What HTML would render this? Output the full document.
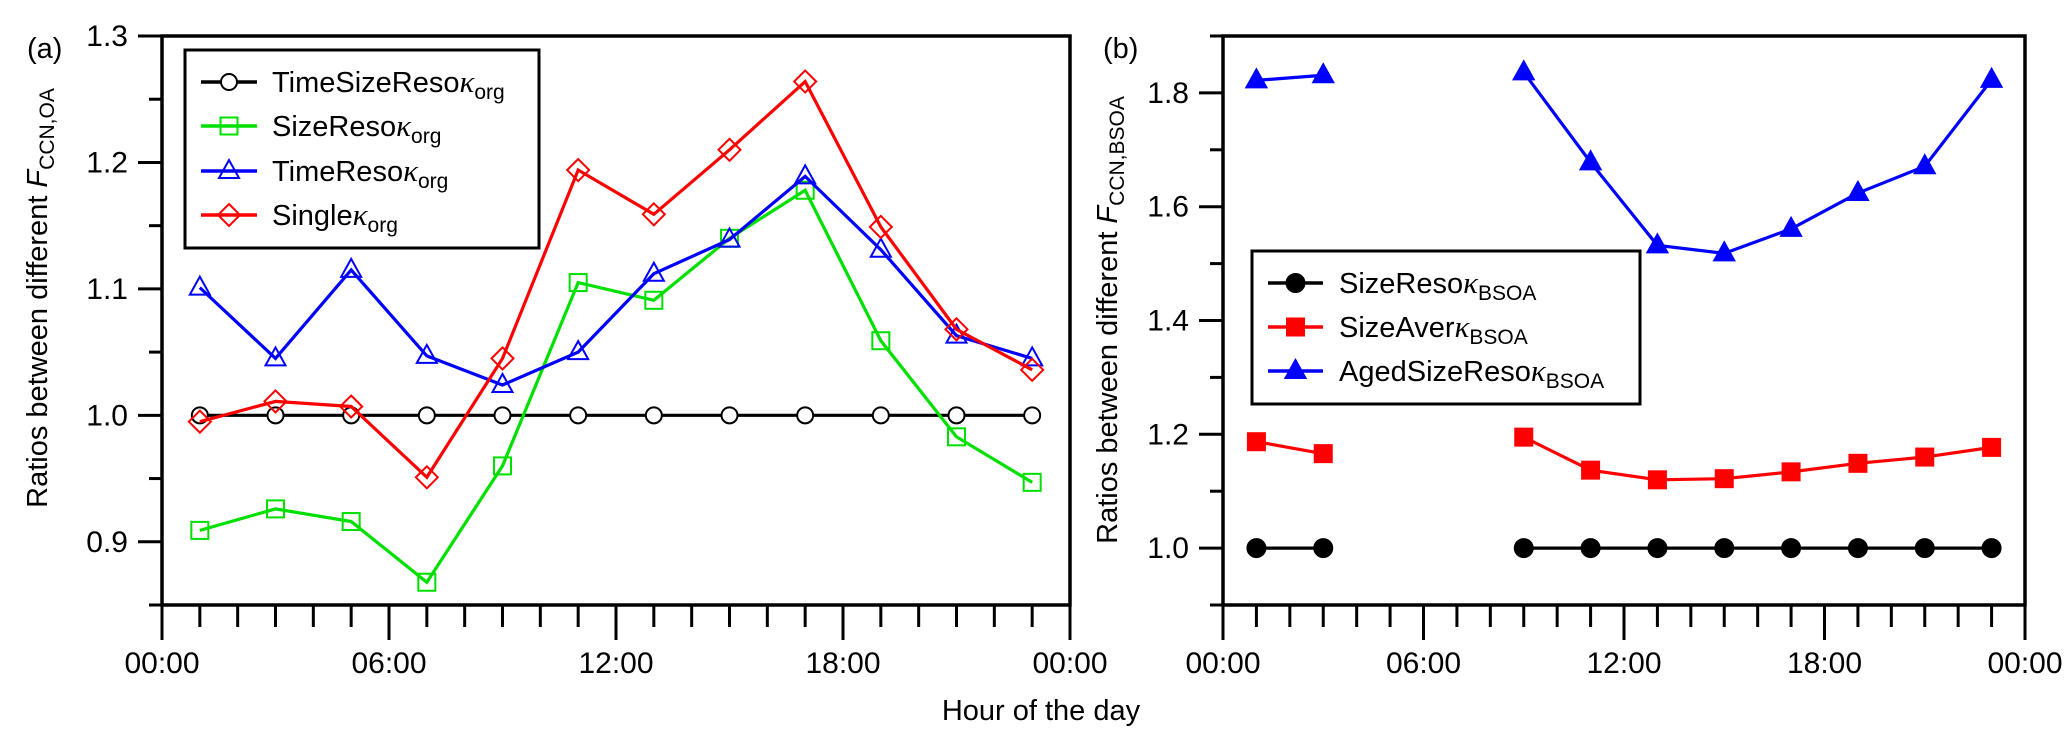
<!DOCTYPE html>
<html><head><meta charset="utf-8">
<style>
html,body{margin:0;padding:0;background:#fff;}
svg{display:block;font-family:"Liberation Sans",Arial,sans-serif;}
</style></head>
<body>
<svg id="chart" width="2067" height="750" viewBox="0 0 2067 750" xmlns="http://www.w3.org/2000/svg">
<g id="pa"></g>
<g id="pb"></g>
<text x="1041" y="720" font-size="29" text-anchor="middle">Hour of the day</text>
</svg>
<script>
const hoursA = [1,3,5,7,9,11,13,15,17,19,21,23];
const aBlack = [1,1,1,1,1,1,1,1,1,1,1,1];
const aGreen = [0.909,0.926,0.916,0.868,0.960,1.105,1.091,1.140,1.178,1.059,0.983,0.947];
const aBlue = [1.101,1.045,1.115,1.047,1.024,1.050,1.112,1.139,1.189,1.131,1.063,1.045];
const aRed = [0.995,1.011,1.007,0.951,1.045,1.194,1.159,1.210,1.264,1.149,1.068,1.036];
const hoursB1 = [1,3];
const hoursB2 = [9,11,13,15,17,19,21,23];
const bBlack1 = [1,1];
const bBlack2 = [1,1,1,1,1,1,1,1];
const bRed1 = [1.187,1.166];
const bRed2 = [1.195,1.137,1.120,1.122,1.134,1.149,1.160,1.177];
const bBlue1 = [1.822,1.831];
const bBlue2 = [1.836,1.678,1.532,1.518,1.561,1.624,1.671,1.823];
const xTickLabels = ["00:00","06:00","12:00","18:00","00:00"];
const yTicksA = ["0.9","1.0","1.1","1.2","1.3"];
const yTicksB = ["1.0","1.2","1.4","1.6","1.8"];

const NS="http://www.w3.org/2000/svg";
function mk(parent,tag,attrs){const e=document.createElementNS(NS,tag);for(const k in attrs)e.setAttribute(k,attrs[k]);parent.appendChild(e);return e;}

function panel(g,L,R,T,B,ymin,ymax,yMajor,yMinor,yLabels){
  const xs=h=>L+(R-L)*h/24;
  const ys=v=>B-(B-T)*(v-ymin)/(ymax-ymin);
  for(let v=ymin;v<=ymax+1e-9;v+=yMinor){
    const isMaj=Math.abs(Math.round(v/yMajor)*yMajor-v)<1e-6;
    const t=mk(g,'line',{x1:L,x2:L-(isMaj?24:13),y1:ys(v),y2:ys(v),stroke:'#000','stroke-width':3});
    
    
  }
  yLabels.forEach(s=>{
    const t=mk(g,'text',{x:L-34,y:ys(parseFloat(s))+10,'font-size':30,'text-anchor':'end'});
    t.textContent=s;
    
    
  });
  for(let h=0;h<=24;h++){
    const maj=h%6===0;
    const t=mk(g,'line',{x1:xs(h),x2:xs(h),y1:B,y2:B+(maj?35:22),stroke:'#000','stroke-width':3});
    
    
  }
  xTickLabels.forEach((s,i)=>{
    const t=mk(g,'text',{x:xs(i*6),y:673,'font-size':30,'text-anchor':'middle'});
    t.textContent=s;
    
    
  });
  const box=mk(g,'rect',{x:L,y:T,width:R-L,height:B-T,fill:'none',stroke:'#000','stroke-width':3.5});
  
  
  return {xs,ys};
}

function marker(g,type,x,y,color,filled){
  const f=filled?color:'none';let e;
  if(type==='circle') e=mk(g,'circle',{cx:x,cy:y,r:filled?9:8,fill:filled?color:'#fff',stroke:color,'stroke-width':2});
  else if(type==='square') e=mk(g,'rect',{x:x-8.5,y:y-8.5,width:17,height:17,fill:filled?color:'none',stroke:color,'stroke-width':2});
  else if(type==='tri') e=mk(g,'polygon',{points:`${x},${y-11} ${x-10},${y+7} ${x+10},${y+7}`,fill:f,stroke:color,'stroke-width':2});
  else e=mk(g,'polygon',{points:`${x},${y-11} ${x+11},${y} ${x},${y+11} ${x-11},${y}`,fill:f,stroke:color,'stroke-width':2});
  
  
}

function series(g,ax,hours,vals,color,type,filled,name){
  const pts=hours.map((h,i)=>ax.xs(h)+','+ax.ys(vals[i])).join(' ');
  const p=mk(g,'polyline',{points:pts,fill:'none',stroke:color,'stroke-width':3.2});
  
  
  hours.forEach((h,i)=>marker(g,type,ax.xs(h),ax.ys(vals[i]),color,filled));
}

function legend(g,x,y,w,h,entries,lx1,lx2,tx,filled){
  const r=mk(g,'rect',{x,y,width:w,height:h,fill:'#fff',stroke:'#000','stroke-width':3});
  
  
  entries.forEach(en=>{
    const l=mk(g,'line',{x1:lx1,x2:lx2,y1:en.y,y2:en.y,stroke:en.c,'stroke-width':3.5});
    
    
    marker(g,en.m,(lx1+lx2)/2,en.y,en.c,filled);
    const t=mk(g,'text',{x:tx,y:en.y+10,'font-size':29});
    
    
    t.innerHTML=en.label+'<tspan font-family="Liberation Serif,serif" font-style="italic" font-size="31">κ</tspan><tspan font-size="21" dy="7">'+en.sub+'</tspan>';
  });
}

const ga=document.getElementById('pa');
const axA=panel(ga,162,1070,36,605,0.85,1.3,0.1,0.05,yTicksA);
series(ga,axA,hoursA,aBlack,'#000','circle',false,'line-timesizereso');
series(ga,axA,hoursA,aGreen,'#00e000','square',false,'line-sizereso');
series(ga,axA,hoursA,aBlue,'#0000ff','tri',false,'line-timereso');
series(ga,axA,hoursA,aRed,'#ff0000','diamond',false,'line-single');
legend(ga,185,50,354,198,[
 {y:82,c:'#000',m:'circle',label:'TimeSizeReso',sub:'org'},
 {y:126,c:'#00e000',m:'square',label:'SizeReso',sub:'org'},
 {y:171,c:'#0000ff',m:'tri',label:'TimeReso',sub:'org'},
 {y:215,c:'#ff0000',m:'diamond',label:'Single',sub:'org'}],201,257,272,false);
let t=mk(ga,'text',{x:27,y:58,'font-size':29});t.textContent='(a)';


t=mk(ga,'text',{transform:'translate(47,298) rotate(-90)','font-size':29,'text-anchor':'middle'});
t.innerHTML='Ratios between different <tspan font-style="italic">F</tspan><tspan font-size="21" dy="7">CCN,OA</tspan>';



const gb=document.getElementById('pb');
const axB=panel(gb,1223,2025,36,605,0.9,1.9,0.2,0.1,yTicksB);
series(gb,axB,hoursB1,bBlack1,'#000','circle',true,'line-sizereso-bsoa');
series(gb,axB,hoursB2,bBlack2,'#000','circle',true,'line-sizereso-bsoa');
series(gb,axB,hoursB1,bRed1,'#ff0000','square',true,'line-sizeaver-bsoa');
series(gb,axB,hoursB2,bRed2,'#ff0000','square',true,'line-sizeaver-bsoa');
series(gb,axB,hoursB1,bBlue1,'#0000ff','tri',true,'line-agedsizereso-bsoa');
series(gb,axB,hoursB2,bBlue2,'#0000ff','tri',true,'line-agedsizereso-bsoa');
legend(gb,1252,251,388,153,[
 {y:283,c:'#000',m:'circle',label:'SizeReso',sub:'BSOA'},
 {y:327,c:'#ff0000',m:'square',label:'SizeAver',sub:'BSOA'},
 {y:371,c:'#0000ff',m:'tri',label:'AgedSizeReso',sub:'BSOA'}],1268,1323,1339,true);
t=mk(gb,'text',{x:1103,y:58,'font-size':29});t.textContent='(b)';


t=mk(gb,'text',{transform:'translate(1117,320) rotate(-90)','font-size':29,'text-anchor':'middle'});
t.innerHTML='Ratios between different <tspan font-style="italic">F</tspan><tspan font-size="21" dy="7">CCN,BSOA</tspan>';


</script>
</body></html>
